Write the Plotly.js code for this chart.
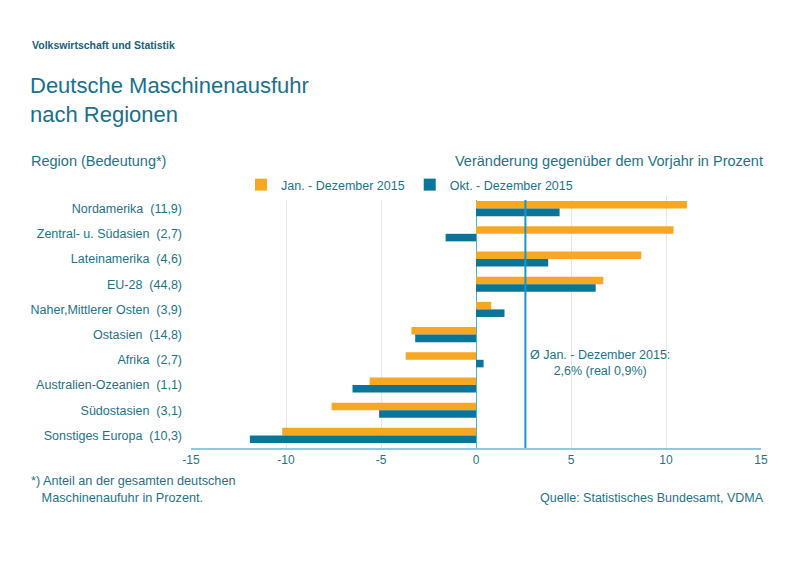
<!DOCTYPE html>
<html>
<head>
<meta charset="utf-8">
<script src="https://cdn.plot.ly/plotly-3.0.1.min.js"></script>
<style>html,body{margin:0;padding:0;background:#fff;}#chart{width:800px;height:566px;}</style>
</head>
<body>
<div id="chart"></div>
<script>
const regions = ["Nordamerika", "Zentral- u. Südasien", "Lateinamerika", "EU-28", "Naher,Mittlerer Osten", "Ostasien", "Afrika", "Australien-Ozeanien", "Südostasien", "Sonstiges Europa"];
const shares = ["11,9", "2,7", "4,6", "44,8", "3,9", "14,8", "2,7", "1,1", "3,1", "10,3"];
const janDez2015 = [11.1, 10.4, 8.7, 6.7, 0.8, -3.4, -3.7, -5.6, -7.6, -10.2];
const oktDez2015 = [4.4, -1.6, 3.8, 6.3, 1.5, -3.2, 0.4, -6.5, -5.1, -11.9];
const seriesNames = ["Jan. - Dezember 2015", "Okt. - Dezember 2015"];
const average = 2.6;
const xTicks = [-15, -10, -5, 0, 5, 10, 15];

const teal = "#1d7388";
const font = "Liberation Sans, Arial, sans-serif";
const labels = regions.map((r, i) => r + "\u00a0\u00a0(" + shares[i] + ")");

const traces = [
  {type: "bar", orientation: "h", name: seriesNames[0], y: labels, x: janDez2015,
   marker: {color: "#f7a823"}},
  {type: "bar", orientation: "h", name: seriesNames[1], y: labels, x: oktDez2015,
   marker: {color: "#0b7599"}}
];

const layout = {
  width: 800, height: 566,
  paper_bgcolor: "#fff", plot_bgcolor: "#fff",
  margin: {l: 191, r: 39, t: 196, b: 118, autoexpand: false},
  font: {family: font, color: teal},
  barmode: "group", bargap: 0.4, bargroupgap: 0,
  title: {text: "Deutsche Maschinenausfuhr<br>nach Regionen", x: 30/800, xanchor: "left", xref: "container",
          y: 1 - 93/566, yanchor: "top", yref: "container",
          font: {family: font, size: 22, color: "#1a6f8c"}},
  xaxis: {range: [-15, 15], tickvals: xTicks, ticktext: xTicks.map(String), showgrid: true, gridcolor: "#e6e6e6",
          zeroline: true, zerolinecolor: "#4fb0d6", zerolinewidth: 1,
          showline: true, linecolor: "#8cc8de", linewidth: 1.5, ticks: "", fixedrange: true,
          tickfont: {family: font, size: 12, color: teal}},
  yaxis: {autorange: "reversed", ticks: "", ticklabelstandoff: 8, showgrid: false,
          tickfont: {family: font, size: 12.5, color: teal}},
  showlegend: true,
  legend: {orientation: "h", x: 241/800, xref: "container", y: 1 - 170/566, yref: "container", xanchor: "left", yanchor: "top",
           font: {family: font, size: 12.5, color: teal}, itemwidth: 30, traceorder: "normal",
           itemclick: false},
  shapes: [
    {type: "line", xref: "x", yref: "paper", x0: average, x1: average, y0: 0, y1: 1,
     line: {color: "#1a96c6", width: 2}}
  ],
  annotations: [
    {text: "<b>Volkswirtschaft und Statistik</b>", xref: "paper", yref: "paper", x: (30-191)/570, y: 1 + (196-45)/252,
     xanchor: "left", yanchor: "middle", showarrow: false, font: {family: font, size: 10.5, color: "#1a5f78"}},
    {text: "Region (Bedeutung*)", xref: "paper", yref: "paper", x: (29-191)/570, y: 1 + (196-161)/252,
     xanchor: "left", yanchor: "middle", showarrow: false, font: {family: font, size: 14.5, color: teal}},
    {text: "Veränderung gegenüber dem Vorjahr in Prozent", xref: "paper", yref: "paper", x: (765-191)/570, y: 1 + (196-161)/252,
     xanchor: "right", yanchor: "middle", showarrow: false, font: {family: font, size: 14.5, color: teal}},
    {text: "Ø Jan. - Dezember 2015:<br>2,6% (real 0,9%)", xref: "x", yref: "paper", x: 6.5, y: (448-363)/252,
     xanchor: "center", yanchor: "middle", showarrow: false, font: {family: font, size: 12.5, color: teal}},
    {text: "*) Anteil an der gesamten deutschen<br>\u00a0\u00a0\u00a0Maschinenaufuhr in Prozent.", xref: "paper", yref: "paper", x: (29-191)/570, y: -(489-448)/252,
     xanchor: "left", yanchor: "middle", align: "left", showarrow: false, font: {family: font, size: 12.7, color: teal}},
    {text: "Quelle: Statistisches Bundesamt, VDMA", xref: "paper", yref: "paper", x: (766-191)/570, y: -(498-448)/252,
     xanchor: "right", yanchor: "middle", showarrow: false, font: {family: font, size: 12.5, color: teal}}
  ]
};

Plotly.newPlot("chart", traces, layout, {displayModeBar: false, staticPlot: true});
</script>
</body>
</html>
